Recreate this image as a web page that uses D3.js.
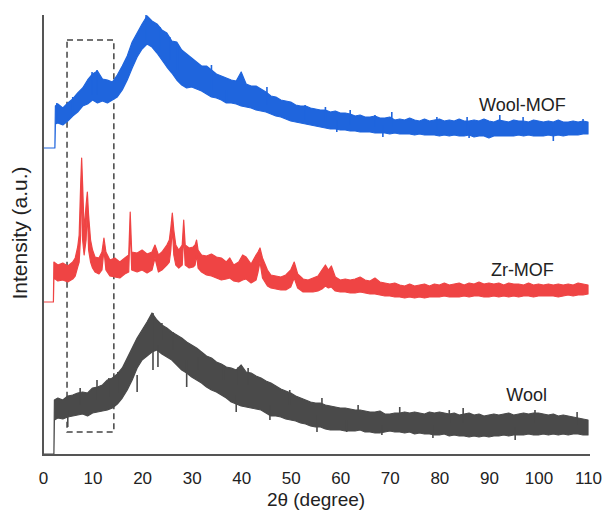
<!DOCTYPE html>
<html>
<head>
<meta charset="utf-8">
<script src="https://cdn.jsdelivr.net/npm/d3@7"></script>
<style>
  html, body { margin: 0; padding: 0; background: #fff; }
  svg { display: block; font-family: "Liberation Sans", Arial, Helvetica, sans-serif; }
</style>
</head>
<body>
<svg id="chart" width="606" height="510"></svg>
<script>
// XRD patterns, stacked with vertical offsets (intensity in arbitrary units).
// Each trace is stored as the upper and lower edge of its noisy band,
// plus the most prominent single noise spikes that stick out of the band.

const xTicks = [0, 10, 20, 30, 40, 50, 60, 70, 80, 90, 100, 110];

// Wool-MOF
const woolMofTheta = [0, 2.4, 2.5, ...d3.range(3, 111)];
const woolMofHigh = [307, 307, 349,
  351,347,352,356,362,367,375,381,384,376,
  375,373,380,389,399,413,422,431,439,434,
  431,425,422,414,413,405,401,397,393,389,
  389,385,381,379,377,375,374,383,371,369,
  369,366,363,359,358,355,354,353,350,349,
  349,347,346,345,345,343,344,342,342,341,
  339,340,338,338,339,337,337,338,335,336,
  335,337,335,334,336,334,335,336,334,335,
  334,336,334,334,335,334,336,334,333,335,
  334,333,335,334,334,333,335,334,333,334,
  333,335,333,333,334,333,334,333];
const woolMofLow = [307, 307, 331,
  332,330,334,339,343,349,351,355,352,354,
  352,355,358,365,375,387,398,406,411,408,
  402,395,388,382,375,370,367,368,366,364,
  361,358,357,355,352,352,351,349,348,347,
  345,344,343,341,339,338,336,334,333,332,
  331,330,329,328,327,326,326,325,325,324,
  324,323,323,323,322,322,322,321,322,321,
  321,321,320,321,320,320,320,319,320,319,
  320,319,319,320,318,319,319,317,319,319,
  319,319,319,320,319,320,319,319,319,320,
  319,320,319,320,320,320,321,321];
const woolMofSpikeTheta  = [2.8, 6.0, 9.9, 10.9, 20.8, 23.6, 25.6, 27.2, 34, 37, 45.2, 52.9, 57, 59.3, 62, 67, 68.6, 70.4, 79.5, 85.6, 86, 92.2, 96.9, 103, 109];
const woolMofSpikeTop    = [352, 358, 383, 385, 440, 428, 418, 410, 390, 365, 368, 350, 348, 335, 345, 340, 330, 343, 338, 338, 330, 340, 338, 328, 336];
const woolMofSpikeBottom = [335, 340, 360, 360, 415, 405, 395, 385, 365, 352, 350, 335, 333, 323, 330, 328, 318, 328, 325, 325, 317, 325, 325, 314, 325];

// Zr-MOF
const zrMofTheta = [0, 2.1, 2.2, 3, 4, 5, 6, 6.5, 7.0, 7.3, 7.6, 7.8, 8.0, 8.3, 8.7, 8.95, 9.2, 9.6,
  10, 10.5, 11.3, 11.9, 12.3, 12.7, 13.5, 14.5, 15.5, 16.5, 17.3, 17.6, 17.9, 19, 20, 21, 22, 22.6,
  23.3, 24, 25, 25.5, 25.8, 26.1, 26.4, 26.8, 27.4, 28.1, 28.4, 28.7, 29.5, 30.3, 30.7, 31.0, 31.3,
  32, 33, 34, 35, 36, 37, 37.7, 38.5, 39.5, 40.3, 41, 42, 43, 43.4, 43.8, 44.3, 45.3, 46, 47, 48, 49,
  50, 50.7, 51.4, 52.5, 53.5, 54.5, 55.5, 56.3, 57, 57.6, 58.2, 59, 60, 61, 62, 63, 64, 65, 66, 67,
  68, 69, 70, 71, 72, 73, 74, 75, 76, 77, 78, 79, 80, 81, 82, 83, 84, 85, 86, 87, 88, 89, 90, 91, 92,
  93, 94, 95, 96, 97, 98, 99, 100, 101, 102, 103, 104, 105, 106, 107, 108, 109, 110];
const zrMofHigh = [153, 153, 193, 190, 192, 189, 193, 197, 208, 220, 270, 297, 270, 225, 250, 263, 240, 215,
  205, 198, 197, 203, 217, 203, 195, 197, 193, 197, 200, 243, 203, 202, 205, 201, 203, 210,
  200, 203, 210, 215, 227, 242, 225, 210, 205, 210, 235, 210, 207, 208, 210, 215, 205,
  200, 199, 201, 198, 197, 193, 197, 190, 193, 200, 198, 191, 200, 203, 207, 197, 185, 180, 179, 178, 180,
  185, 193, 181, 176, 175, 177, 179, 185, 190, 185, 189, 178, 175, 176, 175, 176, 178, 175, 174, 177,
  173, 172, 171, 172, 170, 169, 171, 169, 170, 171, 169, 171, 170, 172, 170, 171, 172, 170, 172, 171, 173, 171, 172, 171, 172,
  170, 172, 171, 171, 170, 172, 170, 171, 170, 171, 170, 171, 170, 171, 170, 172, 171, 170];
const zrMofLow = [153, 153, 177, 174, 175, 173, 176, 179, 188, 193, 220, 280, 215, 200, 215, 245, 205, 193,
  187, 183, 181, 185, 205, 185, 179, 178, 177, 181, 183, 230, 185, 183, 185, 182, 185, 197,
  183, 185, 190, 193, 205, 227, 200, 190, 187, 190, 220, 190, 187, 188, 190, 200, 187,
  183, 180, 179, 177, 175, 176, 177, 174, 173, 175, 176, 172, 175, 183, 193, 177, 169, 167, 166, 165, 165,
  168, 177, 167, 163, 163, 163, 164, 166, 169, 167, 168, 164, 163, 163, 162, 162, 163, 162, 161, 161,
  160, 159, 159, 158, 158, 157, 158, 157, 158, 157, 158, 158, 158, 159, 158, 158, 158, 159, 158, 159, 159, 158, 158, 159, 158,
  159, 158, 159, 158, 159, 159, 158, 159, 159, 159, 159, 158, 159, 160, 159, 160, 160, 161];
const zrMofSpikeTheta  = [];
const zrMofSpikeTop    = [];
const zrMofSpikeBottom = [];

// Wool
const woolTheta = [0, 2.2, 2.3, ...d3.range(3, 111)];
const woolHigh = [1, 1, 55,
  57,55,59,60,62,63,62,67,68,70,
  75,77,81,87,97,107,117,125,133,142,
  135,130,127,123,120,117,113,110,107,103,
  99,97,93,91,88,87,85,90,83,82,
  79,77,74,72,69,66,64,62,59,57,
  55,53,52,52,50,49,48,47,47,46,
  45,45,44,43,43,44,41,41,42,42,
  43,42,43,42,41,43,42,43,42,41,
  42,40,41,42,40,41,39,40,41,40,
  41,42,40,41,42,41,42,42,41,40,
  41,39,40,39,38,37,36,35];
const woolLow = [1, 1, 35,
  37,36,38,39,40,41,39,42,43,44,
  45,47,51,57,65,75,87,95,99,103,
  105,101,98,95,90,85,82,78,75,72,
  68,65,63,60,57,53,51,49,48,47,
  46,45,42,39,39,38,36,35,34,32,
  31,29,28,28,26,25,25,25,24,24,
  24,25,23,23,22,22,23,24,23,23,
  22,23,21,22,21,21,20,20,21,19,
  20,19,19,18,19,18,19,18,19,19,
  20,19,20,20,20,21,20,20,21,20,
  21,20,21,20,21,21,20,20];
const woolSpikeTheta  = [5, 7.5, 10.9, 13.3, 15.1, 19, 19.6, 22.2, 23.2, 24, 26.2, 29, 31.3, 36.4, 39, 39.4, 41.4, 45.8, 49.8, 55.3, 56.3, 61.3, 63.6, 68.4, 72, 78.7, 82, 84.8, 95.3, 99.3, 107.8];
const woolSpikeTop    = [45, 67, 75, 77, 83, 80, 118, 142, 110, 132, 123, 95, 98, 90, 60, 88, 87, 50, 65, 40, 57, 35, 50, 30, 48, 30, 45, 47, 28, 45, 43];
const woolSpikeBottom = [28, 50, 55, 58, 62, 63, 100, 85, 88, 115, 105, 68, 85, 75, 43, 70, 70, 35, 50, 23, 45, 23, 40, 20, 35, 17, 32, 32, 15, 32, 30];

const seriesNames = ["Wool-MOF", "Zr-MOF", "Wool"];
const seriesColors = ["#1f65dd", "#ef4444", "#4a4a4a"];

// Highlighted 2θ window (dashed box)
const boxTheta = [4.85, 14.3];
const boxIntensity = [23, 415];

const svg = d3.select("#chart");
const W = 606, H = 510;
svg.append("rect").attr("width", W).attr("height", H).attr("fill", "#fff");

const x = d3.scaleLinear().domain([0, 110]).range([43, 588]);
const y = d3.scaleLinear().domain([0, 440]).range([455, 15]);

const series = [
  { theta: woolMofTheta, hi: woolMofHigh, lo: woolMofLow,
    st: woolMofSpikeTheta, sTop: woolMofSpikeTop, sBot: woolMofSpikeBottom },
  { theta: zrMofTheta, hi: zrMofHigh, lo: zrMofLow,
    st: zrMofSpikeTheta, sTop: zrMofSpikeTop, sBot: zrMofSpikeBottom },
  { theta: woolTheta, hi: woolHigh, lo: woolLow,
    st: woolSpikeTheta, sTop: woolSpikeTop, sBot: woolSpikeBottom }
].map((s, i) => ({
  name: seriesNames[i],
  color: seriesColors[i],
  points: s.theta.map((t, j) => ({ t, hi: s.hi[j], lo: s.lo[j] })),
  spikes: s.st.map((t, j) => ({ t, top: s.sTop[j], bottom: s.sBot[j] }))
}));

const area = d3.area()
  .x(d => x(d.t))
  .y0(d => y(d.lo))
  .y1(d => y(d.hi));

// dashed highlight box (behind traces)
svg.append("rect")
  .attr("x", x(boxTheta[0]))
  .attr("y", y(boxIntensity[1]))
  .attr("width", x(boxTheta[1]) - x(boxTheta[0]))
  .attr("height", y(boxIntensity[0]) - y(boxIntensity[1]))
  .attr("fill", "none")
  .attr("stroke", "#444")
  .attr("stroke-width", 1.5)
  .attr("stroke-dasharray", "6,4");

const traces = svg.append("g").selectAll("g")
  .data(series)
  .join("g");

traces.append("path")
  .attr("d", d => area(d.points))
  .attr("fill", d => d.color)
  .attr("stroke", d => d.color)
  .attr("stroke-width", 1.2)
  .attr("stroke-linejoin", "round");

traces.selectAll("line")
  .data(d => d.spikes.map(p => ({ ...p, color: d.color })))
  .join("line")
  .attr("x1", d => x(d.t)).attr("x2", d => x(d.t))
  .attr("y1", d => y(d.top)).attr("y2", d => y(d.bottom))
  .attr("stroke", d => d.color)
  .attr("stroke-width", 1.6);

// axes
const xAxis = d3.axisBottom(x).tickValues(xTicks).tickSize(0).tickPadding(17);
const gx = svg.append("g").attr("transform", `translate(0,${y(0)})`).call(xAxis);
gx.select(".domain").remove();
gx.selectAll("text").attr("font-size", 17).attr("fill", "#222")
  .attr("font-family", "Liberation Sans, Arial, sans-serif");

svg.append("line")
  .attr("x1", x(0)).attr("x2", 590)
  .attr("y1", y(0)).attr("y2", y(0))
  .attr("stroke", "#555").attr("stroke-width", 2);
svg.append("line")
  .attr("x1", x(0)).attr("x2", x(0))
  .attr("y1", y(0) + 1).attr("y2", y(440))
  .attr("stroke", "#555").attr("stroke-width", 2);

// series labels
const labelTheta = [88, 90.4, 93.5];
const labelIntensity = [344, 179, 54];
svg.append("g").selectAll("text")
  .data(seriesNames)
  .join("text")
  .attr("x", (d, i) => x(labelTheta[i]))
  .attr("y", (d, i) => y(labelIntensity[i]))
  .attr("font-size", 18)
  .attr("fill", "#222")
  .text(d => d);

// axis titles
svg.append("text")
  .attr("x", 316).attr("y", 506)
  .attr("text-anchor", "middle")
  .attr("font-size", 19)
  .attr("fill", "#222")
  .text("2θ (degree)");

svg.append("text")
  .attr("transform", "translate(27,233) rotate(-90)")
  .attr("text-anchor", "middle")
  .attr("font-size", 21)
  .attr("fill", "#222")
  .text("Intensity (a.u.)");
</script>
</body>
</html>
